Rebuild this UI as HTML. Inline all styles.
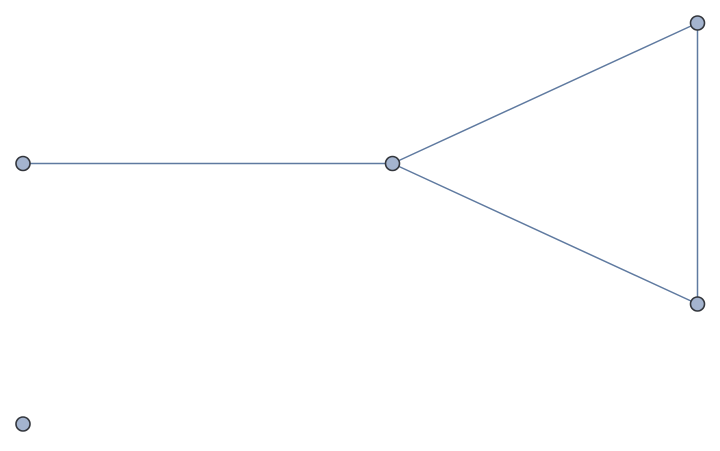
<!DOCTYPE html>
<html><head><style>html,body{margin:0;padding:0;background:#fff}</style></head>
<body>
<svg width="720" height="446" viewBox="0 0 720 446" xmlns="http://www.w3.org/2000/svg">
<g stroke="#5f7aa0" stroke-width="1.5" fill="none">
<line x1="23" y1="163.5" x2="392.5" y2="163.5"/>
<line x1="392.5" y1="163.5" x2="697.5" y2="23"/>
<line x1="392.5" y1="163.5" x2="697.5" y2="304"/>
<line x1="697.5" y1="23" x2="697.5" y2="304"/>
</g>
<g fill="#a4b4cf" stroke="#33363c" stroke-width="1.6">
<circle cx="23" cy="163.5" r="7"/>
<circle cx="392.5" cy="163.5" r="7"/>
<circle cx="697.5" cy="23" r="7"/>
<circle cx="697.5" cy="304" r="7"/>
<circle cx="23" cy="424" r="7"/>
</g>
</svg>
</body></html>
